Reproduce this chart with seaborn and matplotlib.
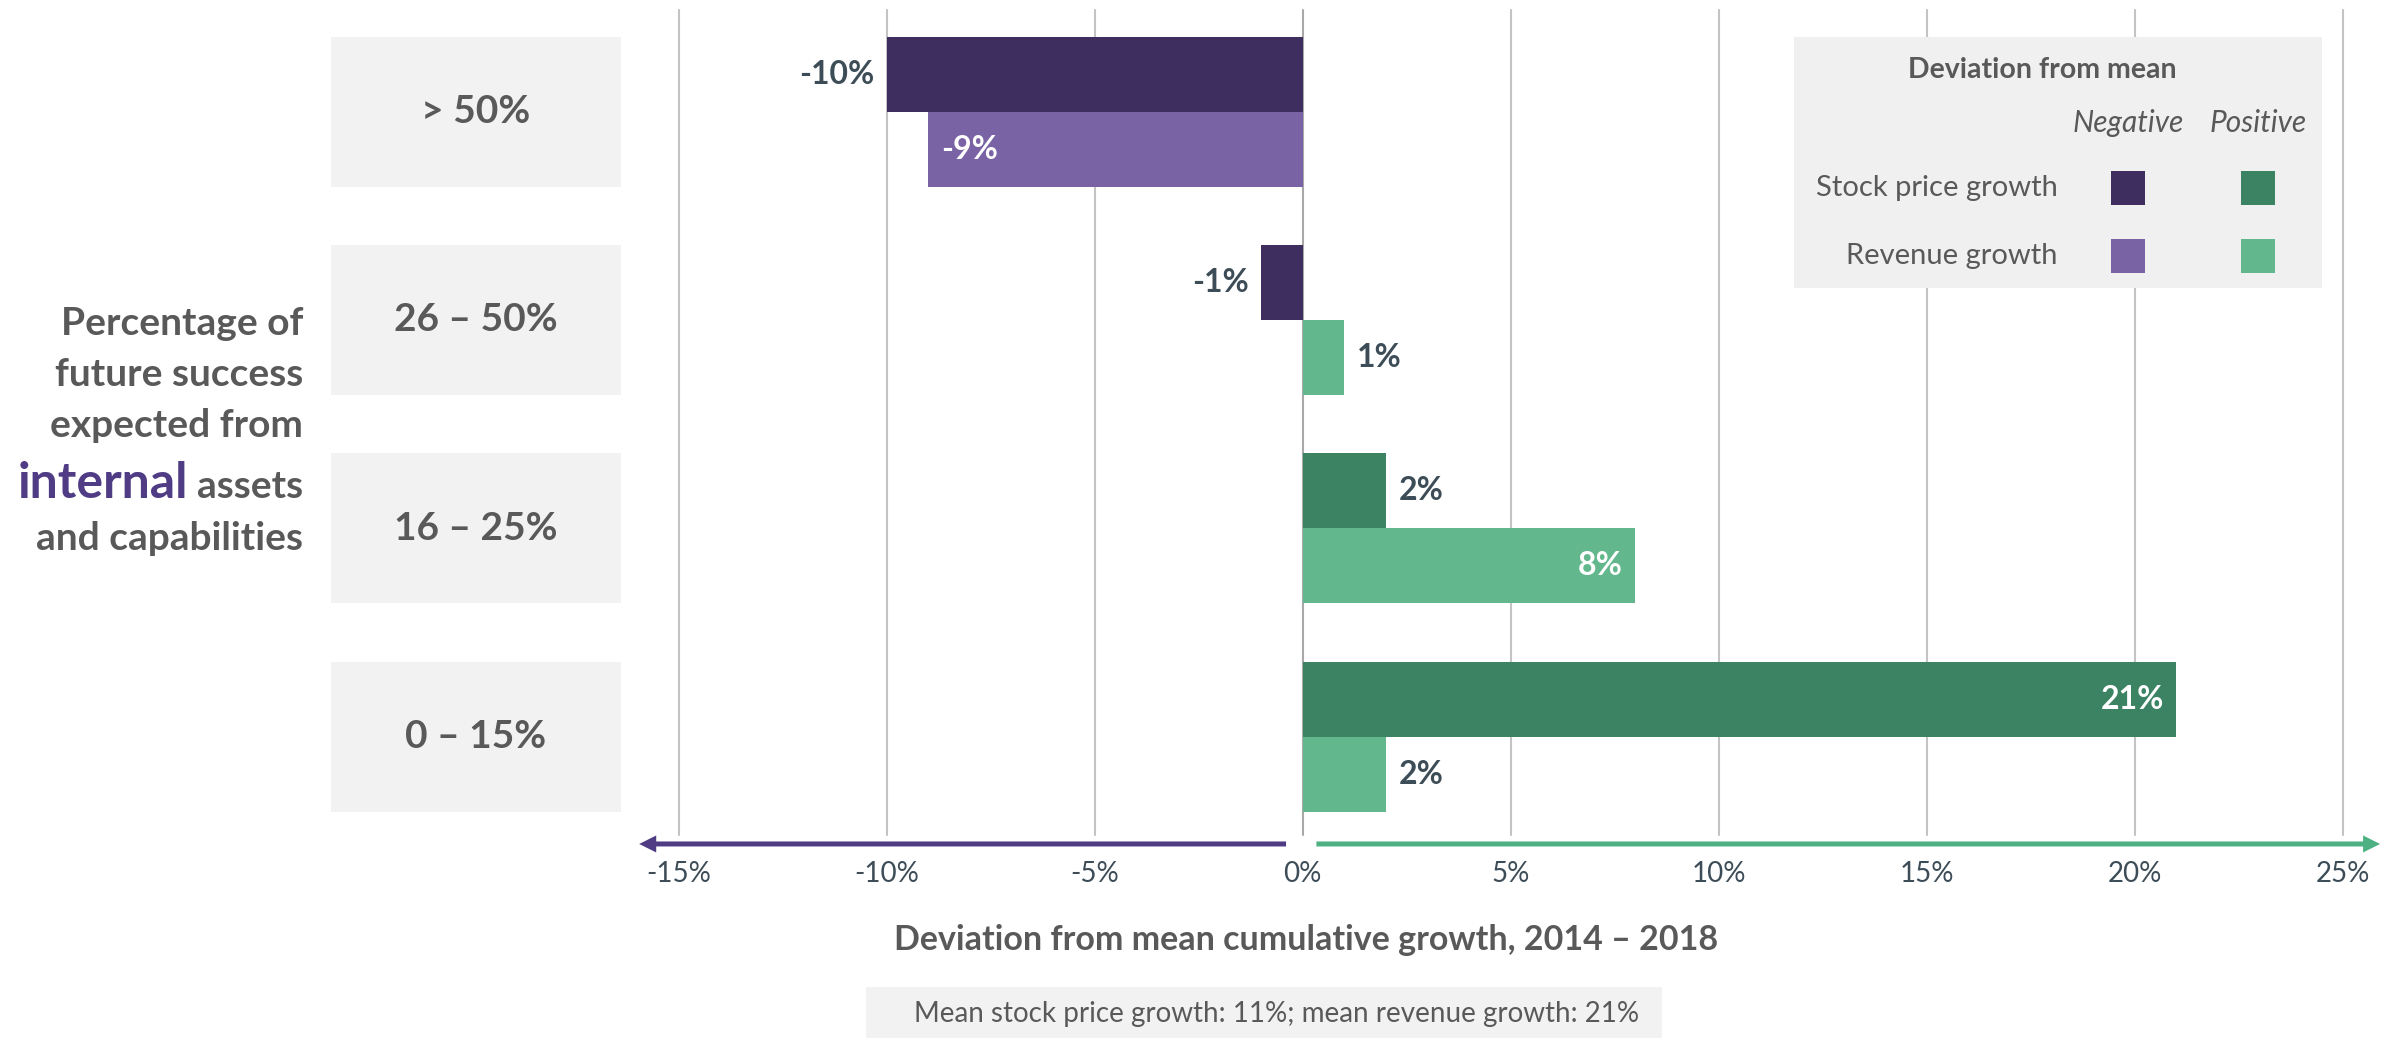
import matplotlib
matplotlib.use("Agg")
import matplotlib.pyplot as plt
import seaborn as sns
import pandas as pd
from matplotlib import transforms
from matplotlib.patches import Rectangle, FancyArrow

# ---- data -------------------------------------------------------------
categories = ["> 50%", "26 – 50%", "16 – 25%", "0 – 15%"]
metrics = ["Stock price growth", "Revenue growth"]
stock_dev = [-10, -1, 2, 21]      # deviation from mean stock price growth (%)
revenue_dev = [-9, 1, 8, 2]       # deviation from mean revenue growth (%)
x_ticks = [-15, -10, -5, 0, 5, 10, 15, 20, 25]
mean_stock_growth = 11
mean_revenue_growth = 21

x_title = "Deviation from mean cumulative growth, 2014 – 2018"
y_title_lines = ["Percentage of", "future success", "expected from", "assets", "and capabilities"]
y_title_emph = "internal"
legend_title = "Deviation from mean"
sign_names = ["Negative", "Positive"]
footnote = (f"Mean stock price growth: {mean_stock_growth}%; "
            f"mean revenue growth: {mean_revenue_growth}%")

# ---- style ------------------------------------------------------------
colors = {
    "Stock price growth": {"neg": "#3e2d5f", "pos": "#3b8362"},
    "Revenue growth": {"neg": "#7a63a5", "pos": "#62b78c"},
}
# bars at least this long carry their label inside the bar
inside_min = {"Stock price growth": 15, "Revenue growth": 5}
GRAY = "#595959"
SLATE = "#3d4d58"
PURPLE = "#4f3c84"
GREEN = "#4db183"
BOX = "#f2f2f2"

sns.set_theme(style="white")
plt.rcParams["font.family"] = ["Lato", "DejaVu Sans"]

df = pd.DataFrame({
    "category": categories * 2,
    "metric": [metrics[0]] * len(categories) + [metrics[1]] * len(categories),
    "value": stock_dev + revenue_dev,
})

W, H = 2400, 1038
fig = plt.figure(figsize=(W / 100, H / 100), dpi=100)
ax = fig.add_axes([0.2828, 0.1956, 0.6933, 0.7948])

sns.barplot(data=df, y="category", x="value", hue="metric", orient="h",
            order=categories, hue_order=metrics, width=0.72, dodge=True,
            saturation=1, linewidth=0, legend=False, ax=ax, zorder=2)

ax.set_xlim(-15, 25)
ax.set_ylim(3.472, -0.488)
for s in ax.spines.values():
    s.set_visible(False)
ax.set_ylabel("")
ax.set_yticks([])

# vertical grid
for t in x_ticks:
    ax.axvline(t, color="#a8a8a8" if t == 0 else "#c4c4c4", lw=1.5,
               zorder=0, clip_on=False)

ax.set_xticks(x_ticks)
ax.set_xticklabels([f"{t}%" for t in x_ticks])
ax.tick_params(axis="x", length=0, pad=19, labelsize=20, labelcolor=SLATE)

# colour bars by sign and label them
for cont, metric in zip(ax.containers, metrics):
    for bar in cont:
        v = bar.get_width()
        sign = "neg" if v < 0 else "pos"
        bar.set_facecolor(colors[metric][sign])
        yc = bar.get_y() + bar.get_height() / 2
        d = 1 if v > 0 else -1
        if abs(v) >= inside_min[metric]:
            off, ha, col = -d * 9, ("right" if v > 0 else "left"), "white"
        else:
            off, ha, col = d * 9, ("left" if v > 0 else "right"), SLATE
        ax.annotate(f"{v:.0f}%", xy=(v, yc), xytext=(off, 0),
                    textcoords="offset points", ha=ha, va="center",
                    fontsize=23, fontweight="bold", color=col, zorder=5)

# category boxes to the left of the plot
trans_cat = transforms.blended_transform_factory(fig.transFigure, ax.transData)
for i, cat in enumerate(categories):
    ax.add_patch(Rectangle((0.1379, i - 0.36), 0.1208, 0.72, transform=trans_cat,
                           facecolor=BOX, edgecolor="none", clip_on=False))
    ax.text(0.1983, i, cat, transform=trans_cat, ha="center", va="center",
            fontsize=28, fontweight="bold", color=GRAY, clip_on=False)

# direction arrows under the axis
trans_arr = transforms.blended_transform_factory(ax.transData, ax.transAxes)
px_x = 1664 / 40.0
px_y = 825.0
ay = -9 / px_y
for x0, dx, col in [(-0.4, -15.55, PURPLE), (0.33, 25.57, GREEN)]:
    ax.add_patch(FancyArrow(x0, ay, dx, 0, width=5 / px_y, head_width=17 / px_y,
                            head_length=17 / px_x, length_includes_head=True,
                            transform=trans_arr, color=col, lw=0, clip_on=False))

# axis title
ax.set_xlabel(x_title, fontsize=24.5, fontweight="bold", color=GRAY)
ax.xaxis.set_label_coords(0.377, -0.127)
ax.xaxis.label.set_va("center")

# y title, right aligned, with an emphasised word
baselines = [335, 386, 437, 498, 550]
title_texts = []
for line, by in zip(y_title_lines, baselines):
    title_texts.append(fig.text(0.1263, 1 - by / H, line, ha="right", va="baseline",
                                fontsize=28, fontweight="bold", color=GRAY))

fig.canvas.draw()
renderer = fig.canvas.get_renderer()
ext = title_texts[3].get_window_extent(renderer)
fig.text((ext.x0 - 9) / W, 1 - baselines[3] / H, y_title_emph, ha="right",
         va="baseline", fontsize=36, fontweight="bold", color=PURPLE)

# legend panel
fig.add_artist(Rectangle((1794 / W, 1 - 288 / H), 528 / W, 251 / H,
                         transform=fig.transFigure, facecolor="#f0f0f0",
                         edgecolor="none"))
fig.text(2042 / W, 1 - 70 / H, legend_title, ha="center", va="center",
         fontsize=20.5, fontweight="bold", color=GRAY)
col_x = [2128, 2258]
row_y = [188, 256]
for cx, name in zip(col_x, sign_names):
    fig.text(cx / W, 1 - 123 / H, name, ha="center", va="center",
             fontsize=21.5, fontstyle="italic", color=GRAY)
for ry, metric in zip(row_y, metrics):
    fig.text(2058 / W, 1 - ry / H, metric, ha="right", va="center",
             fontsize=21, color=GRAY)
    for cx, sign in zip(col_x, ["neg", "pos"]):
        fig.add_artist(Rectangle(((cx - 17) / W, 1 - (ry + 17) / H), 34 / W, 34 / H,
                                 transform=fig.transFigure,
                                 facecolor=colors[metric][sign], edgecolor="none"))

# footnote
fig.add_artist(Rectangle((866 / W, 0), 796 / W, 51 / H, transform=fig.transFigure,
                         facecolor=BOX, edgecolor="none"))
fig.text(1277 / W, 1 - 1014 / H, footnote, ha="center", va="center",
         fontsize=20, color=GRAY)

fig.savefig("out.png", dpi=100)
